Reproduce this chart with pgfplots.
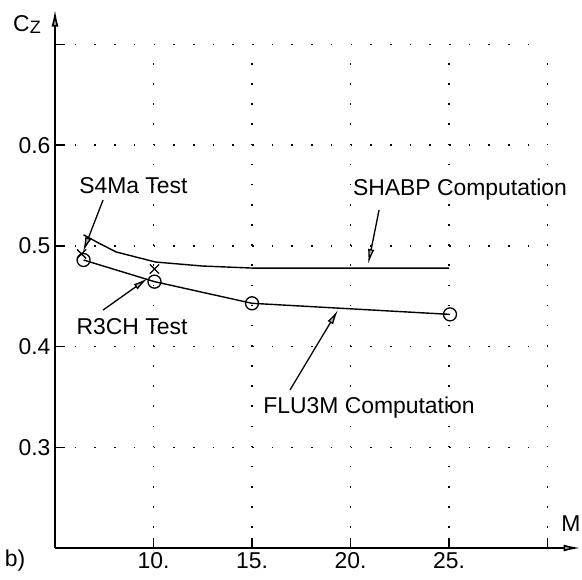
\documentclass[border=0pt]{standalone}
\usepackage{fontspec}
\setmainfont{Liberation Sans}
\usepackage{pgfplots}
\pgfplotsset{compat=1.18}
\usetikzlibrary{arrows.meta}

\tikzset{
  callout/.style={line width=1.3bp, -{Latex[length=15bp,width=6.5bp,fill=gray!55]}},
  big/.style={font=\fontsize{23}{27}\selectfont, inner sep=0pt},
}

\begin{document}
\begin{tikzpicture}
\path[use as bounding box] (0bp,0bp) rectangle (582bp,-580bp);
\begin{axis}[
  at={(55bp,-548bp)}, anchor=south west,
  scale only axis, width=492.5bp, height=503.5bp,
  xmin=5, xmax=30, ymin=0.2, ymax=0.7,
  axis lines=left, clip=false,
  x axis line style={line width=1.6bp, shorten >=-33bp, -{Latex[length=17bp,width=7bp,fill=gray!60]}},
  y axis line style={line width=1.6bp, shorten >=-35bp, -{Latex[length=17bp,width=7bp,fill=gray!60]}},
  xtick={10,15,20,25,30}, xticklabels={10.,15.,20.,25.,},
  ytick={0.3,0.4,0.5,0.6,0.7}, yticklabels={0.3,0.4,0.5,0.6,},
  tick align=inside, major tick length=10bp,
  tick style={line width=1.6bp, black},
  ticklabel style={font=\fontsize{23}{27}\selectfont},
  xticklabel style={yshift=-1bp},
  yticklabel style={xshift=-1bp},
  xmajorgrids, ymajorgrids,
  x grid style={black, line width=1.6bp, dash pattern=on 1.6bp off 18.54bp},
  y grid style={black, line width=1.6bp, dash pattern=on 1.6bp off 18.1bp},
]
% SHABP computation
\addplot[line width=1.4bp, mark=none] coordinates {
  (6.45,0.511) (7.2,0.503) (8.1,0.494) (10.1,0.484) (12.5,0.480) (15,0.478) (20,0.478) (25,0.478)
};
% FLU3M computation
\addplot[line width=1.4bp, mark=o, mark size=6.5bp, mark options={fill=white, line width=1.3bp}] coordinates {
  (6.45,0.486) (10.05,0.4645) (15,0.443) (25.05,0.432)
};
% tests (S4Ma, R3CH)
\addplot[only marks, mark=x, mark size=6.5bp, line width=1.3bp] coordinates {
  (6.35,0.492) (10.05,0.477)
};

\draw[callout] (axis cs:7.44,0.5456) -- (axis cs:6.42,0.494);
\node[big] at (axis cs:8.98,0.5595) {S4Ma Test};

\draw[callout] (axis cs:7.44,0.4363) -- (axis cs:9.72,0.468);
\node[big] at (axis cs:8.91,0.4195) {R3CH Test};

\draw[callout] (axis cs:21.45,0.5357) -- (axis cs:20.9,0.482);
\node[big] at (axis cs:25.56,0.5555) {SHABP Computation};

\draw[callout] (axis cs:16.93,0.357) -- (axis cs:19.37,0.4365);
\node[big] at (axis cs:20.94,0.339) {FLU3M Computation};
\end{axis}
\node[big] at (27bp,-24bp) {C\raisebox{-2bp}{\fontsize{18}{18}\selectfont Z}};
\node[big] at (571bp,-524bp) {M};
\node[big] at (15bp,-561bp) {b)};
\end{tikzpicture}
\end{document}
